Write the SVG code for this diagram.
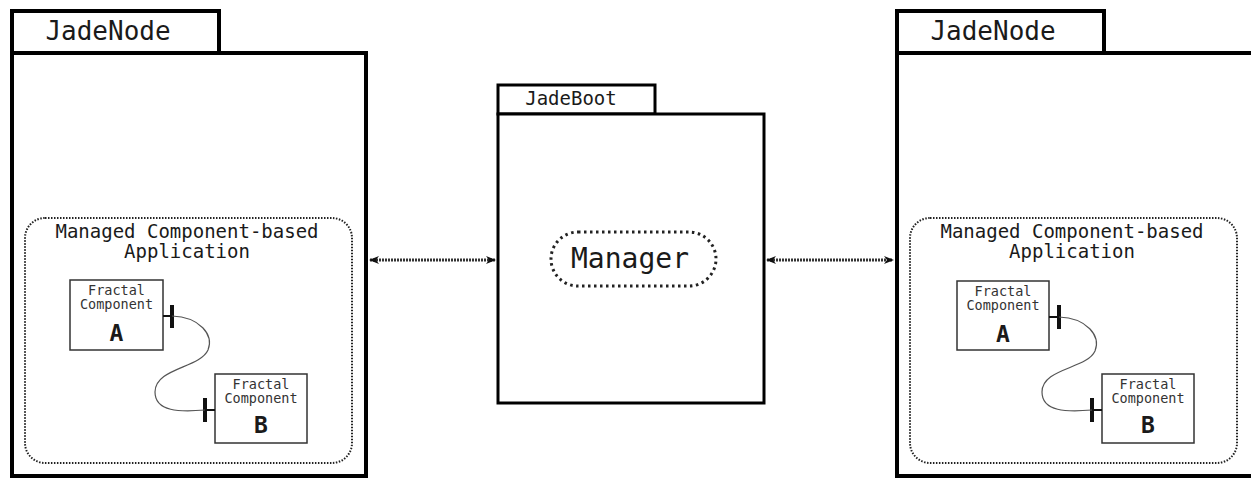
<svg xmlns="http://www.w3.org/2000/svg" width="1251" height="479" viewBox="0 0 1251 479">
<style>
.frame{fill:#fff;stroke:#000;stroke-width:4}
.frame3{fill:#fff;stroke:#000;stroke-width:3}
.app{fill:none;stroke:#222;stroke-width:2;stroke-dasharray:1.5 1.5}
.comp{fill:#fff;stroke:#333;stroke-width:1.5}
.mono{font-family:"DejaVu Sans Mono","Liberation Mono",monospace;fill:#1a1a1a;text-anchor:middle}
.small{font-size:13.5px;fill:#333}
.big{font-size:23px;font-weight:bold}
.bar{stroke:#111;stroke-width:4;fill:none}
.stub{stroke:#111;stroke-width:2;fill:none}
.wire{stroke:#555;stroke-width:1.2;fill:none}
.conn{stroke:#333;stroke-width:3;stroke-dasharray:2 1;fill:none}
.mgr{fill:#fff;stroke:#222;stroke-width:3;stroke-dasharray:2.5 3.5}
</style>
<defs>
<marker id="ah" viewBox="0 0 10 8" refX="9" refY="4" markerWidth="10" markerHeight="8" markerUnits="userSpaceOnUse" orient="auto-start-reverse">
<path d="M0,0 L10,4 L0,8 L3,4 Z" fill="#111"/>
</marker>
</defs>
<rect width="1251" height="479" fill="#fff"/>

<g id="jadenode-left">
<rect class="frame" x="12" y="11" width="207" height="42"/>
<rect class="frame" x="12" y="53" width="354" height="423"/>
<text class="mono" x="108" y="40" font-size="26">JadeNode</text>
<g id="app-left">
<rect class="app" x="25" y="218" width="327" height="245" rx="20"/>
<text class="mono" x="187" y="238" font-size="19">Managed Component-based</text>
<text class="mono" x="187" y="258" font-size="19">Application</text>
</g>
<g id="compA-left">
<rect class="comp" x="70" y="280" width="93" height="70"/>
<text class="mono small" x="116.5" y="295">Fractal</text>
<text class="mono small" x="116.5" y="309">Component</text>
<text class="mono big" x="116.5" y="341">A</text>
</g>
<g id="compB-left">
<rect class="comp" x="215" y="374" width="92" height="69"/>
<text class="mono small" x="261" y="389">Fractal</text>
<text class="mono small" x="261" y="403">Component</text>
<text class="mono big" x="261" y="433">B</text>
</g>
<g id="binding-left">
<path class="stub" d="M163,316 H172"/>
<path class="bar" d="M172,305 V328"/>
<path class="stub" d="M205,410 H215"/>
<path class="bar" d="M205,398 V422"/>
<path class="wire" d="M172,316 C200,317 214,335 208,350 C200,368 155,368 155,392 C155,412 180,412 205,410"/>
</g>
</g>

<g id="jadeboot">
<rect class="frame3" x="498" y="85" width="157" height="29"/>
<rect class="frame3" x="498" y="114" width="266" height="289"/>
<text class="mono" x="571" y="105" font-size="19">JadeBoot</text>
<g id="manager">
<rect class="mgr" x="551" y="232" width="165" height="54" rx="27"/>
<text class="mono" x="630" y="268" font-size="28">Manager</text>
</g>
</g>

<g id="jadenode-right" transform="translate(885,0)">
<rect class="frame" x="12" y="11" width="207" height="42"/>
<rect class="frame" x="12" y="53" width="364" height="423"/>
<text class="mono" x="108" y="40" font-size="26">JadeNode</text>
<g id="app-right">
<rect class="app" x="25" y="218" width="327" height="245" rx="20"/>
<text class="mono" x="187" y="238" font-size="19">Managed Component-based</text>
<text class="mono" x="187" y="258" font-size="19">Application</text>
</g>
<g id="compA-right">
<rect class="comp" x="72" y="281" width="92" height="69"/>
<text class="mono small" x="118" y="296">Fractal</text>
<text class="mono small" x="118" y="310">Component</text>
<text class="mono big" x="118" y="342">A</text>
</g>
<g id="compB-right">
<rect class="comp" x="217" y="374" width="92" height="69"/>
<text class="mono small" x="263" y="389">Fractal</text>
<text class="mono small" x="263" y="403">Component</text>
<text class="mono big" x="263" y="433">B</text>
</g>
<g id="binding-right">
<path class="stub" d="M164,317 H174"/>
<path class="bar" d="M174,305 V329"/>
<path class="stub" d="M207,410 H217"/>
<path class="bar" d="M207,398 V422"/>
<path class="wire" d="M174,317 C202,318 216,336 210,351 C202,369 157,368 157,392 C157,412 182,412 207,410"/>
</g>
</g>

<g id="connectors">
<path class="conn" d="M370,260 H495" marker-start="url(#ah)" marker-end="url(#ah)"/>
<path class="conn" d="M767,260 H893" marker-start="url(#ah)" marker-end="url(#ah)"/>
</g>
</svg>
